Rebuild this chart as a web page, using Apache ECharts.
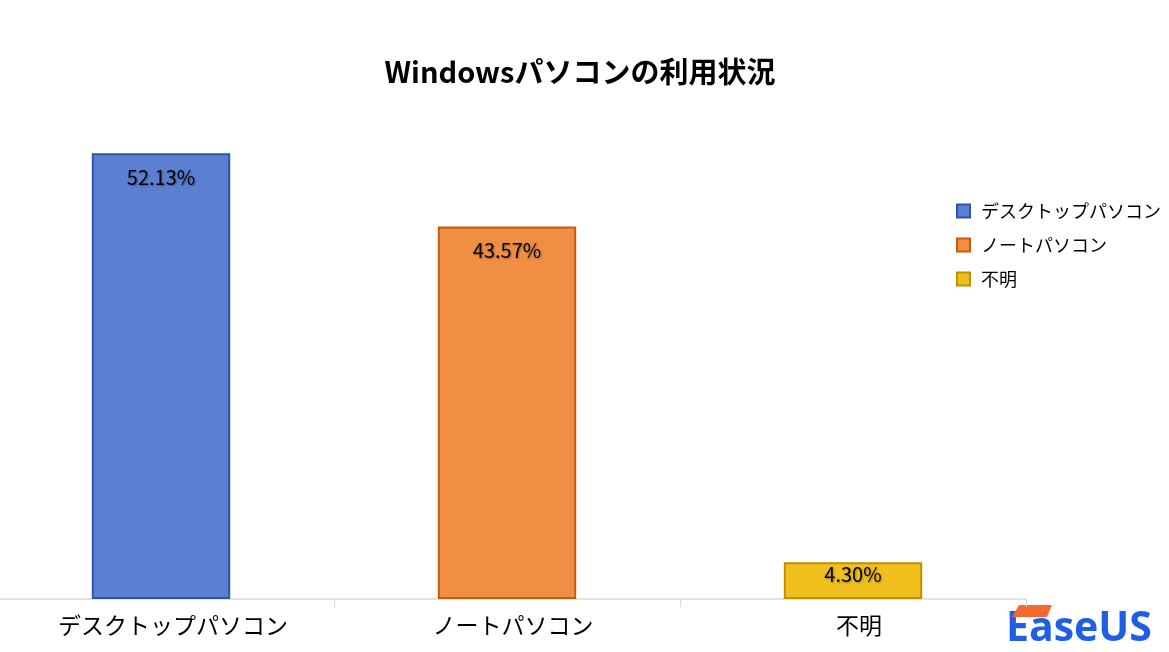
<!DOCTYPE html>
<html><head><meta charset="utf-8">
<script src="https://cdn.jsdelivr.net/npm/echarts@6/dist/echarts.min.js"></script>
<style>html,body{margin:0;padding:0;background:#fff;overflow:hidden}#c{width:1181px;height:652px;margin-left:-12px}</style>
</head><body><div id="c"></div>
<script>
const categories = ['デスクトップパソコン', 'ノートパソコン', '不明'];
const values = [52.13, 43.57, 4.30];
const labels = ['52.13%', '43.57%', '4.30%'];
const fills = ['#5B80D2', '#F08F43', '#F2C01E'];
const borders = ['#2F55A4', '#C55A11', '#BF9000'];
const FONT = '"Noto Sans CJK JP", "Open Sans", sans-serif';
const OX = 12; // container offset

const series = categories.map((name, i) => ({
  name: name,
  type: 'bar',
  barWidth: '40%',
  barGap: '-100%',
  data: categories.map((c, j) => j === i ? values[i] : '-'),
  itemStyle: { color: fills[i], borderColor: borders[i], borderWidth: 2 },
  label: {
    show: true, position: 'insideTop', distance: i === 2 ? 2 : 14,
    formatter: () => labels[i],
    color: '#000', fontSize: 20, fontFamily: FONT,
    textShadowColor: 'rgba(0,0,0,0.35)', textShadowBlur: 2, textShadowOffsetX: 1, textShadowOffsetY: 1
  }
}));

const chart = echarts.init(document.getElementById('c'));
chart.setOption({
  animation: false,
  title: {
    text: 'Windowsパソコンの利用状況', left: 575 + OX, top: 52, textAlign: 'center',
    textStyle: { fontSize: 29, fontWeight: 'bold', color: '#000', fontFamily: FONT }
  },
  legend: {
    orient: 'vertical', left: 951 + OX, top: 197, itemGap: 16,
    itemWidth: 13, itemHeight: 13, icon: 'rect',
    textStyle: { fontSize: 18, color: '#000', fontFamily: FONT, padding: [0,0,0,6] },
    data: categories
  },
  grid: { left: 0, width: 1038, top: 86, bottom: 53, containLabel: false },
  xAxis: {
    type: 'category', data: categories,
    axisLine: { lineStyle: { color: '#d9d9d9', width: 1.5 } },
    axisTick: { show: true, length: 8, lineStyle: { color: '#d9d9d9' } },
    axisLabel: {
      fontSize: 23, color: '#000', margin: 15, fontFamily: FONT,
      formatter: (v, idx) => idx === 0 ? '{a|' + v + '}' : '{b|' + v + '}',
      rich: {
        a: { fontSize: 23, color: '#000', fontFamily: FONT, padding: [0, 0, 0, 24] },
        b: { fontSize: 23, color: '#000', fontFamily: FONT, padding: [0, 0, 0, 12] }
      }
    }
  },
  yAxis: { type: 'value', min: 0, max: 60, show: false, splitLine: { show: false } },
  series: series,
  graphic: [
    { type: 'text', left: 1006 + OX, top: 609, style: { text: 'EaseUS', fontSize: 41, fontWeight: 'bold', fill: '#1f5fe6', fontFamily: '"Open Sans", sans-serif' } },
    { type: 'polygon', shape: { points: [[1012 + OX, 617], [1019 + OX, 605], [1052 + OX, 605], [1047 + OX, 617]] }, style: { fill: '#F46A2E' } }
  ]
});
</script></body></html>
